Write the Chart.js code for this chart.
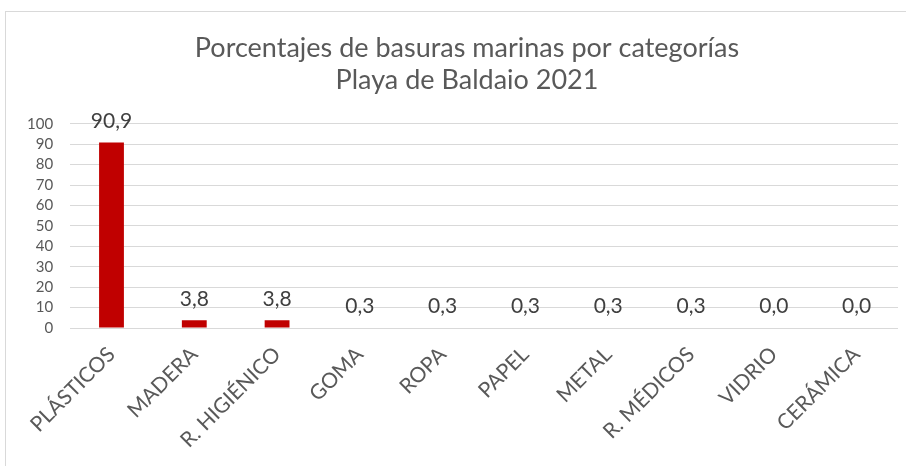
<!DOCTYPE html>
<html>
  <head>
    <title>Basuras marinas Baldaio 2021</title>
    <script src="https://cdn.jsdelivr.net/npm/chart.js"></script>
    <style>
      html, body { margin: 0; padding: 0; background: #fff; overflow: hidden; }
      #box {
        position: absolute;
        left: 5px;
        top: 11px;
        width: 924px;
        height: 460px;
        border: 1px solid #d9d9d9;
        box-sizing: border-box;
      }
    </style>
  </head>

  <body>
    <div id="box"><canvas id="myChart" width="922" height="458"></canvas></div>

    <script>
      // chart data
      var categorias = ["PLÁSTICOS", "MADERA", "R. HIGIÉNICO", "GOMA", "ROPA", "PAPEL", "METAL", "R. MÉDICOS", "VIDRIO", "CERÁMICA"];
      var porcentajes = [90.9, 3.8, 3.8, 0.3, 0.3, 0.3, 0.3, 0.3, 0.0, 0.0];
      var titulo = ["Porcentajes de basuras marinas por categorías", "Playa de Baldaio 2021"];
      var yMin = 0, yMax = 100, yPaso = 10;

      var fuente = "Lato, 'Open Sans', sans-serif";
      var gris = "#595959";

      // values above the bars, written with a decimal comma
      var etiquetas = {
        id: "etiquetas",
        afterLayout: function (chart) {
          // title is centred on the whole box, not on the padded area
          var tb = chart.titleBlock;
          if (tb) {
            tb.left += 13;
            tb.right += 13;
          }
        },
        afterDatasetsDraw: function (chart) {
          var ctx = chart.ctx;
          var meta = chart.getDatasetMeta(0);
          ctx.save();
          ctx.font = "21px " + fuente;
          ctx.fillStyle = "#404040";
          ctx.textAlign = "center";
          ctx.textBaseline = "bottom";
          meta.data.forEach(function (bar, i) {
            var txt = porcentajes[i].toFixed(1).replace(".", ",");
            ctx.fillText(txt, bar.x, bar.y - 11);
          });
          ctx.restore();
        },
      };

      var ctx = document.getElementById("myChart").getContext("2d");
      var chart = new Chart(ctx, {
        type: "bar",
        data: {
          labels: categorias,
          datasets: [
            {
              data: porcentajes,
              backgroundColor: "#c00000",
              barPercentage: 0.3,
              categoryPercentage: 1,
            },
          ],
        },
        options: {
          responsive: false,
          animation: false,
          devicePixelRatio: 1,
          layout: { padding: { left: 4, right: 30, top: 0, bottom: 0 } },
          plugins: {
            legend: { display: false },
            tooltip: { enabled: false },
            title: {
              display: true,
              text: titulo,
              color: gris,
              font: { family: fuente, size: 27, weight: "normal", lineHeight: 1.2 },
              padding: { top: 20, bottom: 27 },
            },
          },
          scales: {
            y: {
              min: yMin,
              max: yMax,
              ticks: {
                stepSize: yPaso,
                autoSkip: false,
                color: gris,
                padding: 17,
                font: { family: fuente, size: 15 },
              },
              grid: { color: "#d9d9d9", lineWidth: 1, drawTicks: false },
              border: { display: false },
            },
            x: {
              ticks: {
                color: gris,
                maxRotation: 45,
                minRotation: 45,
                padding: 6,
                font: { family: fuente, size: 21 },
              },
              grid: { display: false },
              border: { display: false },
              afterFit: function (scale) {
                scale.paddingLeft = 0;
                scale.paddingRight = 0;
                scale.height = 142;
              },
            },
          },
        },
        plugins: [etiquetas],
      });
    </script>
  </body>
</html>
